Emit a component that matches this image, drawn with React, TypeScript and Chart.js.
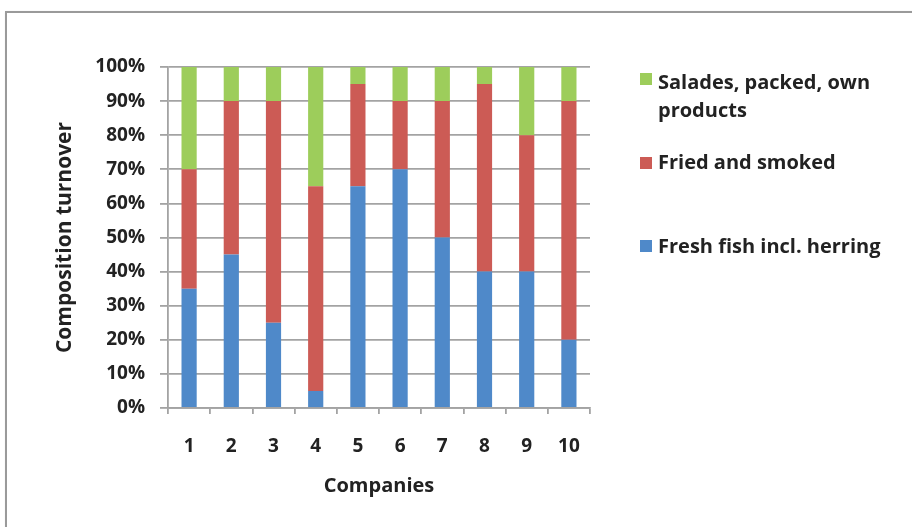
import React, { useEffect, useRef } from "react";
import { Chart, registerables } from "chart.js";

Chart.register(...registerables);

const companies = ["1", "2", "3", "4", "5", "6", "7", "8", "9", "10"];
const freshFish = [35, 45, 25, 5, 65, 70, 50, 40, 40, 20];
const friedSmoked = [35, 45, 65, 60, 30, 20, 40, 55, 40, 70];
const salades = [30, 10, 10, 35, 5, 10, 10, 5, 20, 10];
const yTicks = [0, 10, 20, 30, 40, 50, 60, 70, 80, 90, 100];

const seriesNames = ["Fresh fish incl. herring", "Fried and smoked", "Salades, packed, own products"];
const colors = ["#4F89C9", "#CC5B55", "#9DCD5B"];

const FONT = "'Open Sans', Lato, sans-serif";
const TEXT = "#222222";
const GRID = "#a3a3a3";

export default function App() {
  const ref = useRef<HTMLCanvasElement | null>(null);

  useEffect(() => {
    if (!ref.current) return;
    const chart = new Chart(ref.current, {
      type: "bar",
      data: {
        labels: companies,
        datasets: [
          { label: seriesNames[0], data: freshFish, backgroundColor: colors[0] },
          { label: seriesNames[1], data: friedSmoked, backgroundColor: colors[1] },
          { label: seriesNames[2], data: salades, backgroundColor: colors[2] },
        ],
      },
      options: {
        animation: false,
        responsive: false,
        maintainAspectRatio: false,
        layout: { padding: { left: 40, right: 322, top: 67, bottom: 10 } },
        datasets: { bar: { barPercentage: 0.36, categoryPercentage: 1 } },
        plugins: { legend: { display: false }, tooltip: { enabled: false } },
        scales: {
          x: {
            stacked: true,
            grid: { drawOnChartArea: false, drawTicks: true, tickLength: 6, color: GRID, lineWidth: 1.8 },
            border: { display: true, color: GRID, width: 1.8 },
            ticks: { color: TEXT, font: { family: FONT, size: 19, weight: "bold" }, padding: 21 },
            title: {
              display: true,
              text: "Companies",
              color: TEXT,
              font: { family: FONT, size: 20, weight: "bold" },
              padding: { top: 0, bottom: 19 },
            },
            afterFit: (s: any) => {
              s.height = 109;
            },
          },
          y: {
            stacked: true,
            min: 0,
            max: 100,
            afterBuildTicks: (s: any) => {
              s.ticks = yTicks.map((v) => ({ value: v }));
            },
            grid: { color: GRID, lineWidth: 1.8, tickLength: 8 },
            border: { display: true, color: GRID, width: 1.8 },
            ticks: {
              color: TEXT,
              font: { family: FONT, size: 19, weight: "bold" },
              padding: 15,
              callback: (v: any) => `${v}%`,
            },
            title: {
              display: true,
              text: "Composition turnover",
              color: TEXT,
              font: { family: FONT, size: 21, weight: "bold" },
              padding: { top: 12, bottom: 0 },
            },
            afterFit: (s: any) => {
              s.width = 128;
            },
          },
        },
      },
    });
    return () => chart.destroy();
  }, []);

  const legendItems = [
    { color: colors[2], lines: ["Salades, packed, own", "products"], top: 68, sq: 73 },
    { color: colors[1], lines: ["Fried and smoked"], top: 148, sq: 157 },
    { color: colors[0], lines: ["Fresh fish incl. herring"], top: 232, sq: 240 },
  ];

  return (
    <div style={{ position: "absolute", left: 0, top: 0, width: 912, height: 527, background: "#fff", overflow: "hidden" }}>
      <div
        style={{
          position: "absolute",
          left: 5,
          top: 11,
          width: 930,
          height: 540,
          border: "2px solid #9a9a9a",
          boxShadow: "1px 1px 2px rgba(0,0,0,0.25)",
          boxSizing: "border-box",
        }}
      />
      <canvas ref={ref} width={912} height={527} style={{ position: "absolute", left: 0, top: 0 }} />
      {legendItems.map((it, i) => (
        <React.Fragment key={i}>
          <div style={{ position: "absolute", left: 640, top: it.sq, width: 12, height: 12, background: it.color }} />
          <div
            style={{
              position: "absolute",
              left: 658,
              top: it.top,
              fontFamily: FONT,
              fontSize: 20,
              lineHeight: "28px",
              color: TEXT,
              fontWeight: 700,
              whiteSpace: "nowrap",
            }}
          >
            {it.lines.map((l, j) => (
              <div key={j}>{l}</div>
            ))}
          </div>
        </React.Fragment>
      ))}
    </div>
  );
}
